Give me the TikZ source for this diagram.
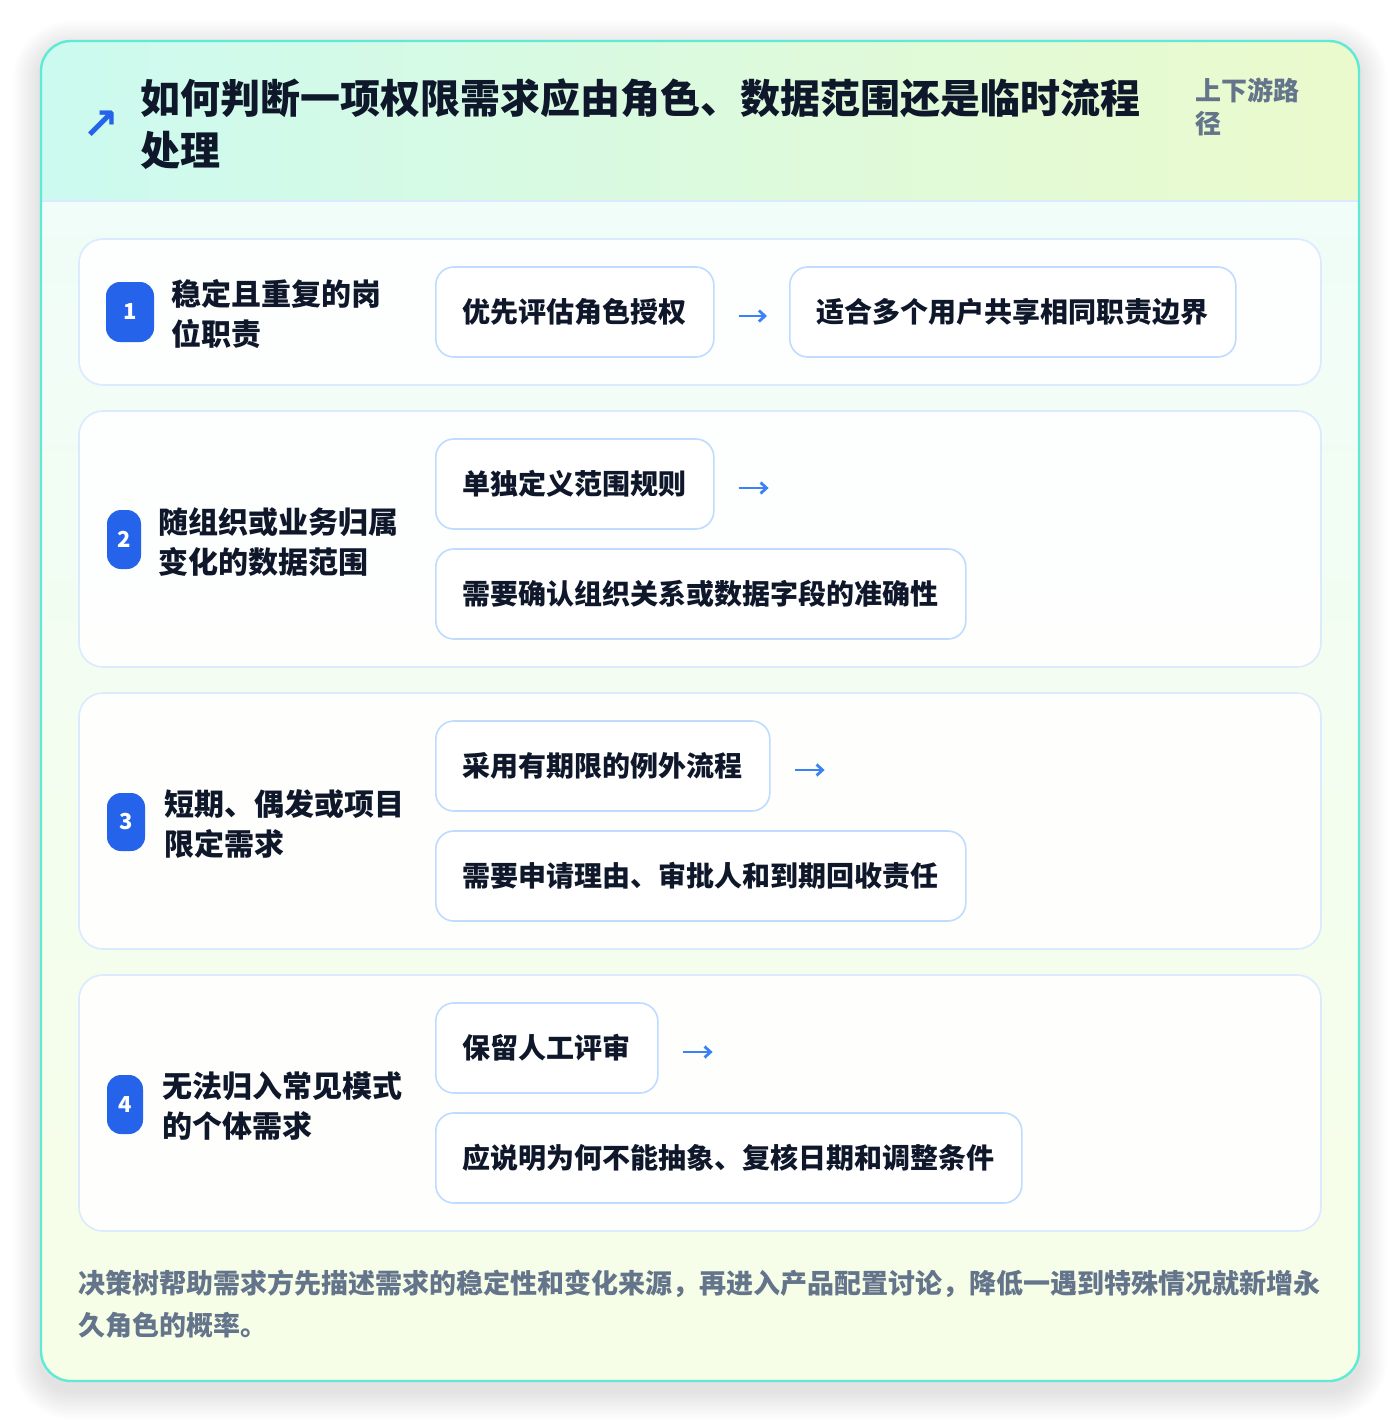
\documentclass[tikz,border=0pt]{standalone}
\usepackage{fontspec}
\setmainfont{Noto Sans CJK SC}
\newfontfamily\symb{DejaVu Sans}
\usetikzlibrary{arrows.meta}
\definecolor{encre}{HTML}{0F172A}
\definecolor{gris}{HTML}{64748B}
\definecolor{bleu}{HTML}{2563EB}
\definecolor{bleuclair}{HTML}{3B82F6}
\definecolor{turquoise}{HTML}{5EEAD4}
\definecolor{teteA}{HTML}{CCFAF0}
\definecolor{teteB}{HTML}{EBFACC}
\definecolor{fondA}{HTML}{F0FDF8}
\definecolor{fondB}{HTML}{F7FEE7}
\definecolor{bordA}{HTML}{DBEAFE}
\definecolor{bordB}{HTML}{BFDBFE}

\begin{document}
\begin{tikzpicture}[x=0.5pt,y=-0.5pt]
% définition des styles
\tikzstyle{titre}=[inner sep=0pt,align=left,text=encre,font=\bfseries\fontsize{20pt}{26pt}\selectfont]
\tikzstyle{soustitre}=[inner sep=0pt,align=left,text=gris,font=\bfseries\fontsize{13pt}{16.5pt}\selectfont]
\tikzstyle{ligne}=[rectangle,rounded corners=12pt,draw=bordA,line width=0.8pt,fill=white,fill opacity=0.92,minimum width=621pt]
\tikzstyle{pastille}=[rectangle,rounded corners=7pt,fill=bleu,text=white,inner sep=0pt,font=\bfseries\fontsize{11pt}{13pt}\selectfont]
\tikzstyle{etiquette}=[inner sep=0pt,align=left,text=encre,font=\bfseries\fontsize{15pt}{20pt}\selectfont]
\tikzstyle{boite}=[rectangle,rounded corners=9pt,draw=bordB,line width=0.8pt,fill=white,inner xsep=13.5pt,minimum height=45pt,text=encre,font=\bfseries\fontsize{14pt}{17pt}\selectfont]
\tikzstyle{fleche}=[-{Straight Barb[length=3pt,width=5.5pt]},line width=1.4pt,bleuclair]
\tikzstyle{note}=[inner sep=0pt,align=left,text=gris,font=\bfseries\fontsize{13.5pt}{21pt}\selectfont]
% le fond, l'ombre et le cadre
\useasboundingbox (0,0) rectangle (1400,1424);
\fill[white] (0,0) rectangle (1400,1424);
\foreach \i in {1,...,14}
  \fill[black,opacity=0.006,rounded corners=15pt+\i*1pt] (41-\i*2,49-\i*2) rectangle (1359+\i*2,1391+\i*2);
\begin{scope}
\clip[rounded corners=15pt] (41,41) rectangle (1359,1381);
\fill[white] (41,41) rectangle (1359,1381);
\shade[top color=fondA,bottom color=fondB] (41,200) rectangle (1359,1381);
\shade[left color=teteA,right color=teteB] (41,41) rectangle (1359,201);
\draw[bordA,line width=1pt] (41,201) -- (1359,201);
\end{scope}
\draw[turquoise,line width=1.2pt,rounded corners=15pt] (41,41) rectangle (1359,1381);
% l'en-tête
\node[text=bleu,inner sep=0pt,font=\symb\bfseries\fontsize{22pt}{22pt}\selectfont] (I) at (101,125) {↗};
\node[titre,anchor=west] (T) at (140,124) {如何判断一项权限需求应由角色、数据范围还是临时流程\\处理};
\node[soustitre,anchor=west] (S) at (1195,107) {上下游路\\径};
% les lignes
\node[ligne,minimum height=73pt] (R1) at (700,312) {};
\node[ligne,minimum height=128pt] (R2) at (700,539) {};
\node[ligne,minimum height=128pt] (R3) at (700,821) {};
\node[ligne,minimum height=128pt] (R4) at (700,1103) {};
% les pastilles
\node[pastille,minimum width=24pt,minimum height=30pt] (N1) at (130,312) {1};
\node[pastille,minimum width=17pt,minimum height=29.5pt] (N2) at (124,539.5) {2};
\node[pastille,minimum width=19pt,minimum height=29pt] (N3) at (126,822) {3};
\node[pastille,minimum width=18pt,minimum height=29.5pt] (N4) at (125,1104.5) {4};
% les étiquettes
\node[etiquette,anchor=west] (L1) at (171,314) {稳定且重复的岗\\位职责};
\node[etiquette,anchor=west] (L2) at (158,542) {随组织或业务归属\\变化的数据范围};
\node[etiquette,anchor=west] (L3) at (164,824) {短期、偶发或项目\\限定需求};
\node[etiquette,anchor=west] (L4) at (162,1106) {无法归入常见模式\\的个体需求};
% les boîtes
\node[boite,anchor=west] (A1) at (435,312) {优先评估角色授权};
\node[boite,anchor=west] (B1) at (789,312) {适合多个用户共享相同职责边界};
\node[boite,anchor=west] (A2) at (435,484) {单独定义范围规则};
\node[boite,anchor=west] (B2) at (435,594) {需要确认组织关系或数据字段的准确性};
\node[boite,anchor=west] (A3) at (435,766) {采用有期限的例外流程};
\node[boite,anchor=west] (B3) at (435,876) {需要申请理由、审批人和到期回收责任};
\node[boite,anchor=west] (A4) at (435,1048) {保留人工评审};
\node[boite,anchor=west] (B4) at (435,1158) {应说明为何不能抽象、复核日期和调整条件};
% les flèches
\coordinate (E2) at ([xshift=27pt,yshift=-2pt]A2.east);
\coordinate (E3) at ([xshift=27pt,yshift=-2pt]A3.east);
\coordinate (E4) at ([xshift=27pt,yshift=-2pt]A4.east);
\draw[fleche,shorten <=12pt,shorten >=11pt] ([yshift=-2pt]A1.east) -- ([yshift=-2pt]B1.west);
\draw[fleche,shorten <=12pt] ([yshift=-2pt]A2.east) -- (E2);
\draw[fleche,shorten <=12pt] ([yshift=-2pt]A3.east) -- (E3);
\draw[fleche,shorten <=12pt] ([yshift=-2pt]A4.east) -- (E4);
% la note
\node[note,anchor=west] (C) at (78,1304) {决策树帮助需求方先描述需求的稳定性和变化来源，再进入产品配置讨论，降低一遇到特殊情况就新增永\\久角色的概率。};
\end{tikzpicture}
\end{document}
